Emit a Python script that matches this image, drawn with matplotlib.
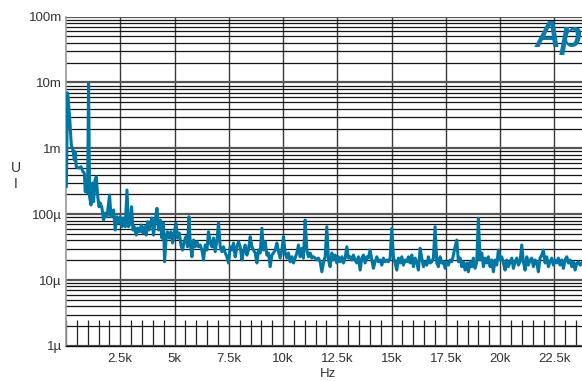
import numpy as np
import matplotlib
matplotlib.use("Agg")
import matplotlib.pyplot as plt
from matplotlib.ticker import FixedLocator, LogLocator, MultipleLocator, NullFormatter

# FFT spectrum, frequency in Hz, level in microvolts
freq_hz = [15, 74, 166, 244, 322, 382, 428, 474, 580, 691, 783, 843, 889, 935, 994,
           1040, 1087, 1151, 1211, 1271, 1335, 1395, 1455, 1519, 1579, 1657, 1731, 1809,
           1888, 2007, 2072, 2132, 2192, 2270, 2348, 2422, 2500, 2578, 2652, 2730, 2808,
           2882, 2960, 3020, 3085, 3145, 3237, 3296, 3389, 3467, 3545, 3619, 3697, 3757,
           3821,
           3881, 3959, 4033, 4111, 4190, 4263, 4342, 4420, 4493, 4540, 4618, 4678, 4756,
           4834, 4908, 4986, 5064, 5138, 5216, 5295, 5368, 5446, 5525, 5599, 5663, 5723,
           5801, 5875, 5953, 6031, 6105, 6183, 6262, 6335, 6413, 6492, 6565, 6644, 6722,
           6796, 6874, 6952, 7026, 7104, 7182, 7256, 7334, 7413, 7486, 7564, 7643, 7716,
           7794, 7873, 7947, 8025, 8103, 8177, 8255, 8333, 8407,
           8485, 8563, 8637, 8715, 8794, 8867, 8946, 9024, 9098, 9176, 9254, 9328, 9406,
           9484, 9558, 9636, 9715, 9788, 9866, 9945, 10018, 10097, 10175, 10248, 10327,
           10405, 10479, 10557, 10635, 10709, 10787, 10865, 10939, 11017, 11096, 11169,
           11248, 11326, 11400, 11478, 11556, 11630, 11708, 11786, 11860, 11938, 12016,
           12090, 12168, 12247, 12320, 12398, 12477, 12550, 12629, 12707, 12781, 12859,
           12937, 13011,
           13089, 13167, 13241, 13319, 13397, 13471, 13549, 13628, 13701, 13779, 13858,
           13932, 14010, 14088, 14162, 14240, 14318, 14392, 14470, 14549, 14622, 14700,
           14779, 14852, 14931, 15009, 15083, 15161, 15239, 15313, 15391, 15469, 15543,
           15622, 15700, 15774, 15852, 15930, 16004, 16082, 16160, 16234, 16313, 16391,
           16465, 16543, 16621, 16695, 16773, 16852, 16925, 17004, 17082, 17156, 17234,
           17312, 17386, 17464, 17542, 17616, 17694, 17773, 17846, 17925, 18003, 18077,
           18155, 18232, 18306, 18384, 18463, 18537, 18615, 18693, 18767, 18845, 18924,
           18997, 19076, 19154, 19228, 19306, 19384, 19458, 19536, 19615, 19688, 19767,
           19845, 19919, 19997, 20075, 20149, 20227, 20305, 20379, 20458, 20536, 20610,
           20688, 20766, 20840, 20918, 20996, 21070, 21149, 21227, 21301, 21379, 21457,
           21531, 21609, 21688, 21761, 21840, 21918, 21992, 22070, 22148, 22222, 22301,
           22379, 22453, 22531, 22609, 22683, 22762, 22840, 22914, 22992, 23070, 23144,
           23222, 23301, 23374, 23453, 23531, 23605, 23683, 23761]

level_uv = [265, 6980, 3015, 1122, 942, 664, 888, 526, 502, 526, 442, 422, 219, 330, 210,
            9690, 184, 138, 297, 155, 330, 371, 196, 130, 148, 124, 81.7, 104,
            91.6, 196, 91.6, 104, 116, 57.6, 91.6, 73.5, 91.6, 64.6, 87.5, 64.6, 233,
            64.6, 73.5, 130, 57.6, 64.6, 48.3, 61.8, 54.2, 68.6, 51.9, 64.6, 48.3, 76.9,
            57.6,
            70, 87.5, 48.3, 81.7, 123, 57.6, 81.7, 43.5, 73.5, 19.0, 45.6, 54.2, 43.5,
            54.2, 36.6, 51.9, 73.5, 43.5, 51.9, 34.1, 28.6, 38.3, 45.6, 32.1, 91.6, 36.6,
            22.6, 40.6, 32.1, 38.3, 32.1, 34.1, 28.6, 20.2, 34.1, 28.6, 54.2, 36.6, 32.1,
            43.5, 27.0, 40.6, 73.5, 32.1, 27.0, 32.1, 25.8, 22.6, 18.2, 32.1, 28.6, 36.6,
            22.6, 32.1, 38.3, 32.1, 20.2, 27.0, 34.1, 24.0, 28.6,
            45.6, 32.1, 28.6, 25.8, 18.2, 28.6, 25.8, 61.3, 28.6, 38.3, 24.0, 25.8, 16.0,
            24.0, 25.8, 28.6, 36.6, 27.0, 21.6, 28.6, 45.6, 25.8, 21.6, 25.8, 19.0,
            22.6, 18.2, 21.6, 25.8, 34.1, 22.6, 30.4, 21.6, 81.7, 28.6, 22.6,
            25.8, 21.6, 22.6, 21.6, 20.2, 21.6, 19.0, 13.4, 18.2, 22.6, 64.6,
            20.2, 16.0, 25.8, 20.2, 24.0, 18.2, 22.6, 19.0, 22.6, 18.2, 21.6,
            32.1, 21.6,
            22.6, 20.2, 24.0, 20.2, 18.2, 22.6, 14.2, 21.6, 24.0, 18.2, 22.6,
            21.6, 28.6, 20.2, 15.1, 19.0, 22.6, 19.0, 20.2, 16.9, 21.6, 19.0,
            20.2, 19.0, 21.6, 61.3, 22.6, 18.2, 14.2, 21.6, 18.2, 22.6, 16.9,
            20.2, 19.0, 22.6, 18.2, 24.0, 16.0, 21.6, 18.2, 14.2, 30.4, 21.6,
            16.0, 19.0, 16.9, 22.6, 18.2, 19.0, 21.6, 64.6, 18.2, 16.0, 22.6,
            18.2, 19.0, 15.1, 19.0, 16.9, 20.2, 19.0, 24.0, 32.1, 40.6, 19.0,
            21.6, 16.0, 19.0, 14.2, 18.2, 13.4, 19.0, 16.0, 21.6, 15.1, 19.0,
            87, 20.2, 25.8, 16.0, 21.6, 18.2, 22.6, 16.0, 20.2, 13.4, 20.2,
            16.9, 28.6, 20.2, 22.6, 18.2, 14.2, 20.2, 16.0, 19.0, 21.6, 15.1,
            19.0, 21.6, 16.9, 19.0, 34.1, 19.0, 14.2, 22.6, 16.9, 20.2, 21.6,
            16.0, 20.2, 18.2, 13.4, 21.6, 24.0, 28.6, 18.2, 22.6, 16.0, 19.0,
            21.6, 16.9, 20.2, 18.2, 21.6, 16.9, 20.2, 15.1, 20.2, 22.6, 18.2,
            20.2, 16.0, 19.0, 14.2, 18.2, 19.0, 16.9, 18.2]

y_ticks = [1e-6, 1e-5, 1e-4, 1e-3, 1e-2, 1e-1]
y_labels = ["1µ", "10µ", "100µ", "1m", "10m", "100m"]
x_ticks = [2500, 5000, 7500, 10000, 12500, 15000, 17500, 20000, 22500]
x_labels = ["2.5k", "5k", "7.5k", "10k", "12.5k", "15k", "17.5k", "20k", "22.5k"]

plt.rcParams['font.family'] = ['Liberation Sans', 'DejaVu Sans']

fig = plt.figure(figsize=(5.82, 3.81), dpi=100)
ax = fig.add_axes([0.1134, 0.0919, 1 - 0.1134, 0.9564 - 0.0919])

ax.set_yscale('log')
ax.set_xlim(0, 23771)
ax.set_ylim(1e-6, 1e-1)

# grid like the analyzer output
ax.yaxis.set_major_locator(FixedLocator(y_ticks))
ax.yaxis.set_minor_locator(LogLocator(base=10, subs=np.arange(2, 10)))
ax.yaxis.set_minor_formatter(NullFormatter())
ax.set_yticklabels(y_labels)
ax.set_xticks(x_ticks)
ax.set_xticklabels(x_labels)
ax.xaxis.set_minor_locator(MultipleLocator(500))

ax.grid(which='major', axis='y', color='#555555', lw=1.6)
ax.grid(which='minor', axis='y', color='#151515', lw=0.9)
ax.grid(which='major', axis='x', color='#3a3a3a', lw=1.0)
ax.set_axisbelow(True)

ax.tick_params(which='major', length=0, labelsize=9.5, labelcolor='#333333')
ax.tick_params(axis='y', which='major', pad=3)
ax.tick_params(axis='x', which='major', pad=5)
ax.tick_params(axis='x', which='minor', direction='in', length=18.7, width=0.9, color='#222222')
ax.tick_params(axis='y', which='minor', length=0)

for s in ['top', 'right']:
    ax.spines[s].set_visible(False)
ax.spines['left'].set_color('#999999')
ax.spines['left'].set_linewidth(1.2)
ax.spines['bottom'].set_color('#111111')
ax.spines['bottom'].set_linewidth(1.0)

ax.plot(freq_hz, np.array(level_uv) * 1e-6, color='#0077a3', lw=2.2, zorder=3)

fig.text(15.5 / 582, 1 - 176 / 381, "U\nI", ha='center', va='center',
         fontsize=10, color='#333333', linespacing=1.1)
fig.text(328 / 582, 1 - 374 / 381, "Hz", ha='center', va='center',
         fontsize=9.5, color='#333333')
fig.text(535 / 582, 1 - 46.7 / 381, "Ap", ha='left', va='baseline',
         fontsize=26, fontweight='bold', fontstyle='italic', color='#0a7aa8', zorder=5)

fig.savefig("out.png", dpi=100)
